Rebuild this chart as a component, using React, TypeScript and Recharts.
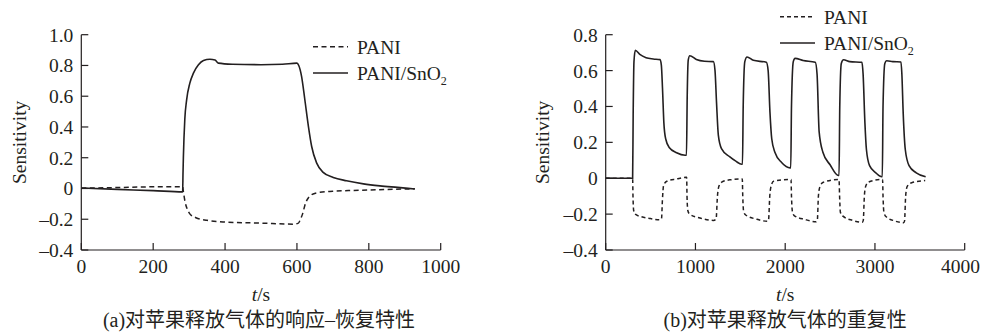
import React from 'react';
import { LineChart, Line, XAxis, YAxis, Legend } from 'recharts';

const FONT = '"Liberation Serif", "Times New Roman", Times, serif';
const CAPTION_FONT = '"Liberation Serif", "Noto Sans CJK SC", serif';
const INK = '#231f20';

// ---------- tick labels ----------
const responseTimeTicks = [0, 200, 400, 600, 800, 1000];
const repeatTimeTicks = [0, 1000, 2000, 3000, 4000];
const responseSensTicks = [-0.4, -0.2, 0, 0.2, 0.4, 0.6, 0.8, 1.0];
const repeatSensTicks = [-0.4, -0.2, 0, 0.2, 0.4, 0.6, 0.8];

// ---------- series names / captions ----------
const seriesPani = 'PANI';
const seriesComposite = 'PANI/SnO2';
const captionA = '(a)对苹果释放气体的响应–恢复特性';
const captionB = '(b)对苹果释放气体的重复性';

// ---------- (a) response–recovery: [t (s), sensitivity] ----------
const responsePani: [number, number][] = [
  [0, 0.002], [100, 0.006], [200, 0.011], [282, 0.012], [284, -0.02], [289, -0.09],
  [295, -0.135], [302, -0.165], [319, -0.19], [350, -0.207], [400, -0.218], [500, -0.225],
  [590, -0.232], [603, -0.227], [610, -0.2], [615, -0.17], [624, -0.095], [632, -0.06],
  [641, -0.04], [664, -0.025], [700, -0.018], [750, -0.013], [800, -0.01], [850, -0.006],
  [900, -0.003], [928, -0.002],
];
const responseComposite: [number, number][] = [
  [0, 0.003], [100, -0.006], [200, -0.014], [282, -0.022], [283, 0.1], [284, 0.2],
  [288, 0.45], [293, 0.575], [302, 0.685], [312, 0.75], [326, 0.804], [340, 0.832],
  [358, 0.84], [372, 0.835], [381, 0.815], [420, 0.808], [500, 0.805], [560, 0.808],
  [600, 0.815], [605, 0.8], [613, 0.728], [622, 0.577], [632, 0.403], [641, 0.273],
  [655, 0.165], [673, 0.105], [701, 0.072], [738, 0.05], [785, 0.03], [831, 0.017],
  [880, 0.007], [928, -0.003],
];

// ---------- (b) repeatability: [t (s), sensitivity] ----------
const repeatPani: [number, number][] = [
  [0, 0], [300, 0], [304, -0.1], [312, -0.18], [330, -0.2], [400, -0.215], [500, -0.225],
  [600, -0.232], [622, -0.225], [632, -0.12], [645, -0.04], [680, -0.017], [790, -0.004], [895, 0.005],
  [902, 0.005], [906, -0.1], [915, -0.18], [935, -0.2], [1050, -0.222], [1200, -0.235],
  [1230, -0.228], [1245, -0.1], [1265, -0.04], [1310, -0.017], [1400, -0.008], [1515, -0.004],
  [1522, -0.004], [1527, -0.1], [1537, -0.185], [1560, -0.205], [1680, -0.228], [1800, -0.24],
  [1815, -0.23], [1828, -0.1], [1845, -0.04], [1870, -0.017], [2055, -0.007],
  [2065, -0.007], [2070, -0.1], [2080, -0.185], [2100, -0.208], [2220, -0.23], [2345, -0.243],
  [2358, -0.235], [2370, -0.1], [2385, -0.05], [2425, -0.022], [2592, -0.007],
  [2600, -0.007], [2606, -0.1], [2615, -0.19], [2640, -0.21], [2750, -0.235], [2860, -0.245],
  [2870, -0.235], [2882, -0.1], [2897, -0.045], [2926, -0.022], [3064, -0.007],
  [3085, -0.007], [3090, -0.1], [3100, -0.19], [3125, -0.215], [3220, -0.238], [3320, -0.248],
  [3330, -0.238], [3342, -0.1], [3360, -0.045], [3410, -0.025], [3560, -0.013],
];
const repeatComposite: [number, number][] = [
  [0, 0], [300, 0], [306, 0.35], [315, 0.65], [330, 0.713], [380, 0.69], [450, 0.672],
  [530, 0.665], [605, 0.661], [620, 0.63], [633, 0.5], [648, 0.31], [668, 0.22], [710, 0.17],
  [790, 0.142], [885, 0.128],
  [900, 0.128], [908, 0.45], [920, 0.66], [937, 0.683], [1010, 0.662], [1100, 0.652],
  [1200, 0.65], [1218, 0.6], [1235, 0.42], [1255, 0.24], [1290, 0.165], [1380, 0.12],
  [1450, 0.095], [1515, 0.078],
  [1524, 0.078], [1532, 0.4], [1550, 0.65], [1575, 0.676], [1645, 0.657], [1790, 0.646],
  [1810, 0.6], [1830, 0.37], [1850, 0.22], [1885, 0.145], [1960, 0.088], [2055, 0.058],
  [2062, 0.058], [2070, 0.4], [2090, 0.65], [2110, 0.668], [2200, 0.656], [2335, 0.646],
  [2355, 0.58], [2378, 0.26], [2420, 0.145], [2500, 0.075], [2592, 0.015],
  [2600, 0.015], [2608, 0.4], [2625, 0.64], [2650, 0.66], [2720, 0.65], [2855, 0.646],
  [2868, 0.58], [2888, 0.31], [2905, 0.16], [2940, 0.07], [3010, 0.03], [3075, 0.008],
  [3082, 0.008], [3090, 0.4], [3110, 0.64], [3130, 0.655], [3200, 0.65], [3290, 0.648],
  [3300, 0.58], [3315, 0.36], [3338, 0.16], [3380, 0.07], [3460, 0.03], [3565, 0.008],
];

const toPoints = (arr: [number, number][]) => arr.map(([t, s]) => ({ t, s }));

const fmtSens = (v: number) =>
  Math.abs(v) < 1e-9 ? '0' : (v < 0 ? '–' : '') + Math.abs(v).toFixed(1);

const FS = 19.5;
const textStyle = { fontFamily: FONT, fontSize: FS, fill: INK } as React.CSSProperties;

const makeXTick = (maxRight: number) => (props: any) => {
  const label = String(props.payload?.value ?? '');
  const w = label.length * 0.5 * FS;
  let x = props.x;
  if (x + w / 2 > maxRight) x = maxRight - w / 2;
  return (
    <text x={x} y={props.y} dy="0.71em" textAnchor="middle" style={textStyle}>
      {label}
    </text>
  );
};

const YTick = (props: any) => (
  <text x={props.x} y={props.y} dy="0.355em" textAnchor="end" style={textStyle}>
    {fmtSens(Number(props.payload?.value))}
  </text>
);

const renderName = (name: string) => {
  const m = name.match(/^(.*?)(\d+)$/);
  if (!m) return name;
  return (
    <>
      {m[1]}
      <tspan style={{ fontSize: 12 }} dy={5}>{m[2]}</tspan>
    </>
  );
};

const LegendBox = (props: any) => {
  const payload = props.payload || [];
  return (
    <svg width={150} height={50} style={{ display: 'block', overflow: 'visible' }}>
      {payload.map((e: any, i: number) => {
        const yLine = 6.7 + i * 26.3;
        const dash = e.payload?.strokeDasharray;
        return (
          <g key={i}>
            <line x1={0} x2={35} y1={yLine} y2={yLine} stroke={INK} strokeWidth={1.5} strokeDasharray={dash} />
            <text x={44} y={yLine + 7.4} style={textStyle}>
              {renderName(String(e.value))}
            </text>
          </g>
        );
      })}
    </svg>
  );
};

const yLabel = (dxOff: number) => (props: any) => {
  const vb = props.viewBox || { x: 0, y: 0, width: 0, height: 0 };
  const cx = vb.x + vb.width - dxOff;
  const cy = vb.y + vb.height / 2;
  return (
    <text x={cx} y={cy} transform={`rotate(-90 ${cx} ${cy})`} textAnchor="middle"
      dominantBaseline="central" style={textStyle}>
      Sensitivity
    </text>
  );
};

const xLabel = (caption: string, capShift: number) => (props: any) => {
  const vb = props.viewBox || { x: 0, y: 0, width: 0, height: 0 };
  const cx = vb.x + vb.width / 2;
  return (
    <g>
      <text x={cx} y={vb.y + 51} textAnchor="middle" style={textStyle}>
        <tspan style={{ fontStyle: 'italic' }}>t</tspan>/s
      </text>
      <text x={cx + capShift} y={vb.y + 77} textAnchor="middle"
        style={{ fontFamily: CAPTION_FONT, fontSize: 20, fill: INK }}>
        {caption}
      </text>
    </g>
  );
};

type PanelProps = {
  width: number;
  margin: { top: number; left: number; right: number; bottom: number };
  pani: [number, number][];
  composite: [number, number][];
  xTicks: number[];
  yTicks: number[];
  caption: string;
  capShift: number;
  legendLeft: number;
  legendTop: number;
  yLabelOffset: number;
  dash: string;
};

const Panel = (p: PanelProps) => (
  <LineChart width={p.width} height={333} margin={p.margin} style={{ fontFamily: FONT }}>
    <XAxis
      type="number"
      dataKey="t"
      domain={[p.xTicks[0], p.xTicks[p.xTicks.length - 1]]}
      ticks={p.xTicks}
      allowDataOverflow
      height={30}
      axisLine={{ stroke: INK, strokeWidth: 1.2 }}
      tickLine={{ stroke: INK, strokeWidth: 1.2 }}
      tickSize={-7}
      tickMargin={16}
      tick={makeXTick(p.width - 1)}
      interval={0}
      label={xLabel(p.caption, p.capShift)}
    />
    <YAxis
      type="number"
      domain={[p.yTicks[0], p.yTicks[p.yTicks.length - 1]]}
      ticks={p.yTicks}
      allowDataOverflow
      width={40}
      axisLine={{ stroke: INK, strokeWidth: 1.2 }}
      tickLine={{ stroke: INK, strokeWidth: 1.2 }}
      tickSize={-7}
      tickMargin={15}
      tick={YTick}
      interval={0}
      label={yLabel(p.yLabelOffset)}
    />
    <Legend
      layout="horizontal"
      verticalAlign="middle"
      align="center"
      content={<LegendBox />}
      wrapperStyle={{ position: 'absolute', left: p.legendLeft, top: p.legendTop, width: 150, height: 50 }}
    />
    <Line
      name={seriesPani}
      data={toPoints(p.pani)}
      dataKey="s"
      type="monotone"
      stroke={INK}
      strokeWidth={1.5}
      strokeDasharray={p.dash}
      dot={false}
      activeDot={false}
      isAnimationActive={false}
    />
    <Line
      name={seriesComposite}
      data={toPoints(p.composite)}
      dataKey="s"
      type="monotone"
      stroke={INK}
      strokeWidth={1.6}
      dot={false}
      activeDot={false}
      isAnimationActive={false}
    />
  </LineChart>
);

export default function App() {
  return (
    <div style={{ position: 'absolute', left: 0, top: 0, width: 981, height: 333, background: '#fff' }}>
      <div style={{ position: 'absolute', left: 0, top: 0 }}>
        <Panel
          width={490}
          margin={{ top: 34.7, left: 41.3, right: 49.3, bottom: 53 }}
          pani={responsePani}
          composite={responseComposite}
          xTicks={responseTimeTicks}
          yTicks={responseSensTicks}
          caption={captionA}
          capShift={-2}
          legendLeft={312.7}
          legendTop={40}
          yLabelOffset={62}
          dash="5 3.5"
        />
      </div>
      <div style={{ position: 'absolute', left: 490, top: 0 }}>
        <Panel
          width={491}
          margin={{ top: 34.7, left: 75.7, right: 16.3, bottom: 53 }}
          pani={repeatPani}
          composite={repeatComposite}
          xTicks={repeatTimeTicks}
          yTicks={repeatSensTicks}
          caption={captionB}
          capShift={0}
          legendLeft={290}
          legendTop={10}
          yLabelOffset={62.7}
          dash="4 3"
        />
      </div>
    </div>
  );
}
